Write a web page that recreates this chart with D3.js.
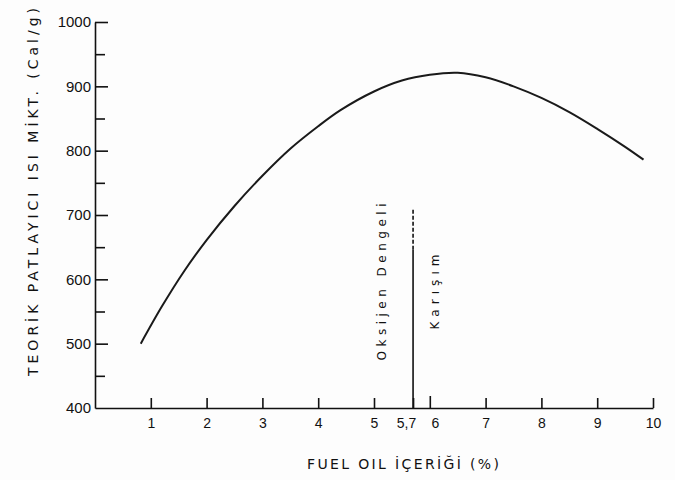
<!DOCTYPE html>
<html>
<head>
<meta charset="utf-8">
<script src="https://cdn.jsdelivr.net/npm/d3@7"></script>
<style>
  body { margin: 0; background: #fff; }
  svg { display: block; }
  .axis path, .axis line { stroke: #111; stroke-width: 1.6; }
  .axis text { fill: #111; font-family: "Liberation Sans", Arial, sans-serif; }
</style>
</head>
<body>
<div id="chart"></div>
<script>
// Data
const fuelOil = [0.82, 1.2, 1.6, 2.0, 2.5, 3.0, 3.5, 4.0, 4.4, 5.0, 5.5, 6.0, 6.5, 7.0, 7.5, 8.0, 8.5, 9.0, 9.5, 9.83];
const heat = [500, 558, 613, 661, 714, 761, 803, 838, 863, 892, 909, 918, 921, 914, 900, 882, 860, 834, 806, 786];
const xTicks = [1, 2, 3, 4, 5, 5.7, 6, 7, 8, 9, 10];
const yTicks = [400, 500, 600, 700, 800, 900, 1000];
const yMinor = [450, 550, 650, 750, 850, 950];
const oxyX = 5.7, oxySolidTop = 646, oxyDashTop = 708;

const W = 675, H = 480;

const svg = d3.select("#chart").append("svg")
  .attr("width", W).attr("height", H);

svg.append("rect").attr("width", W).attr("height", H).attr("fill", "#fdfdfd");

const x = d3.scaleLinear().domain([0, 10]).range([95, 653]);
const y = d3.scaleLinear().domain([400, 1000]).range([408, 22]);

// x axis, ticks pointing up
const xAxis = svg.append("g")
  .attr("class", "axis")
  .attr("transform", "translate(0," + y(400) + ")")
  .call(d3.axisBottom(x)
    .tickValues(xTicks)
    .tickSize(-10)
    .tickSizeOuter(0)
    .tickPadding(10)
    .tickFormat(d => d === 5.7 ? "5,7" : d));
xAxis.selectAll("text").attr("font-size", 14)
  .attr("dx", d => d === 5.7 ? -7 : (d === 6 ? 5 : 0));
xAxis.selectAll(".tick line").attr("y2", d => d === 6 ? -12 : -10);

// y axis, ticks pointing right
const yAxis = svg.append("g")
  .attr("class", "axis")
  .attr("transform", "translate(" + x(0) + ",0)")
  .call(d3.axisLeft(y)
    .tickValues(yTicks)
    .tickSize(-13)
    .tickSizeOuter(0)
    .tickPadding(4)
    .tickFormat(d3.format("d")));
yAxis.selectAll("text").attr("font-size", 15);
yAxis.selectAll(".tick").filter(d => d === 400).select("line").remove();

svg.append("g")
  .attr("class", "axis")
  .attr("transform", "translate(" + x(0) + ",0)")
  .call(d3.axisLeft(y).tickValues(yMinor).tickSize(-10).tickFormat(""))
  .select(".domain").remove();

// main curve
const line = d3.line()
  .x((d, i) => x(fuelOil[i]))
  .y(d => y(d))
  .curve(d3.curveCatmullRom.alpha(0.5));

svg.append("path")
  .attr("d", line(heat))
  .attr("fill", "none")
  .attr("stroke", "#1a1a1a")
  .attr("stroke-width", 2);

// oxygen balance line
svg.append("line")
  .attr("x1", x(oxyX)).attr("x2", x(oxyX))
  .attr("y1", y(400)).attr("y2", y(oxySolidTop))
  .attr("stroke", "#111").attr("stroke-width", 1.6);
svg.append("line")
  .attr("x1", x(oxyX)).attr("x2", x(oxyX))
  .attr("y1", y(oxySolidTop)).attr("y2", y(oxyDashTop))
  .attr("stroke", "#111").attr("stroke-width", 1.6)
  .attr("stroke-dasharray", "4,2");

const font = '"DejaVu Sans", sans-serif';

svg.append("text")
  .attr("transform", "translate(382,282) rotate(-90)")
  .attr("text-anchor", "middle")
  .attr("dominant-baseline", "central")
  .attr("font-family", font).attr("font-size", 12)
  .attr("textLength", 157).attr("lengthAdjust", "spacing")
  .attr("fill", "#111")
  .text("Oksijen Dengeli");

svg.append("text")
  .attr("transform", "translate(435,292) rotate(-90)")
  .attr("text-anchor", "middle")
  .attr("dominant-baseline", "central")
  .attr("font-family", font).attr("font-size", 12)
  .attr("textLength", 75).attr("lengthAdjust", "spacing")
  .attr("fill", "#111")
  .text("Karışım");

// axis titles
svg.append("text")
  .attr("transform", "translate(33,192) rotate(-90)")
  .attr("text-anchor", "middle")
  .attr("dominant-baseline", "central")
  .attr("font-family", font).attr("font-size", 14)
  .attr("textLength", 368).attr("lengthAdjust", "spacing")
  .attr("fill", "#111")
  .text("TEORİK PATLAYICI ISI MİKT.  (Cal/g)");

svg.append("text")
  .attr("x", 403).attr("y", 469)
  .attr("text-anchor", "middle")
  .attr("font-family", font).attr("font-size", 14)
  .attr("textLength", 192).attr("lengthAdjust", "spacing")
  .attr("fill", "#111")
  .text("FUEL OIL  İÇERİĞİ (%)");
</script>
</body>
</html>
